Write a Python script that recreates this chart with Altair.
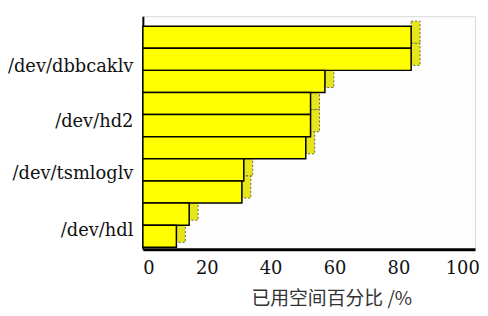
import altair as alt
import pandas as pd

# bar values, top to bottom (used-space percentage)
bar_values = [84, 84, 57, 52.5, 52.5, 51, 31.6, 31, 14.5, 10.5]
# device labels shown on the y axis and the axis positions (in bar units) where they sit
device_labels = ["/dev/dbbcaklv", "/dev/hd2", "/dev/tsmloglv", "/dev/hdl"]
label_pos = [1.84, 4.3, 6.68, 9.24]
x_ticks = [0, 20, 40, 60, 80, 100]

df = pd.DataFrame({
    "start": list(range(len(bar_values))),
    "end": [i + 1 for i in range(len(bar_values))],
    "value": bar_values,
})

# label expression built from the lists
expr = "''"
for pos, name in reversed(list(zip(label_pos, device_labels))):
    expr = f"abs(datum.value - {pos}) < 0.05 ? '{name}' : {expr}"

SERIF = "DejaVu Serif"

x_scale = alt.Scale(domain=[0, 104], nice=False, zero=True)
y_scale = alt.Scale(domain=[-0.45, 10.09], reverse=True, nice=False, zero=False)

x_axis = alt.Axis(
    values=x_ticks, grid=False, ticks=False, domainColor="black", domainWidth=3,
    labelFont=SERIF, labelFontSize=18, labelColor="#111", labelPadding=10,
    title="已用空间百分比 /%", titleFont="Noto Sans CJK SC", titleFontSize=19,
    titleFontWeight="normal", titleColor="#333", titleX=190, titleY=50,
    titleBaseline="middle", titleAlign="center",
)
y_axis = alt.Axis(
    values=label_pos, labelExpr=expr, grid=False, ticks=False, domainColor="black",
    domainWidth=2, labelFont=SERIF, labelFontSize=18, labelColor="#111",
    labelPadding=10, title=None,
)

base = alt.Chart(df)

caps = base.mark_rect(
    fill="#E6E61A", stroke="#444", strokeWidth=0.8, strokeDash=[2, 2],
    x2Offset=9, yOffset=-5, y2Offset=-5,
).encode(
    x=alt.X("value:Q", scale=x_scale, axis=x_axis),
    x2="value:Q",
    y=alt.Y("start:Q", scale=y_scale, axis=y_axis),
    y2="end:Q",
)

bars = base.mark_rect(fill="#FFFF00", stroke="black", strokeWidth=1.5).encode(
    x=alt.X("zero:Q", scale=x_scale, axis=x_axis),
    x2="value:Q",
    y=alt.Y("start:Q", scale=y_scale, axis=y_axis),
    y2="end:Q",
).transform_calculate(zero="0")

chart = alt.layer(caps, bars).properties(
    width=335, height=235,
    autosize=alt.AutoSizeParams(type="none"),
    padding={"left": 136, "top": 7, "right": 5, "bottom": 60},
    background="white",
).configure_view(stroke="#d8d8d8", strokeWidth=1, fill="#fdfdfd")

chart.save("out.html", embed_options={"renderer": "svg", "actions": False})
